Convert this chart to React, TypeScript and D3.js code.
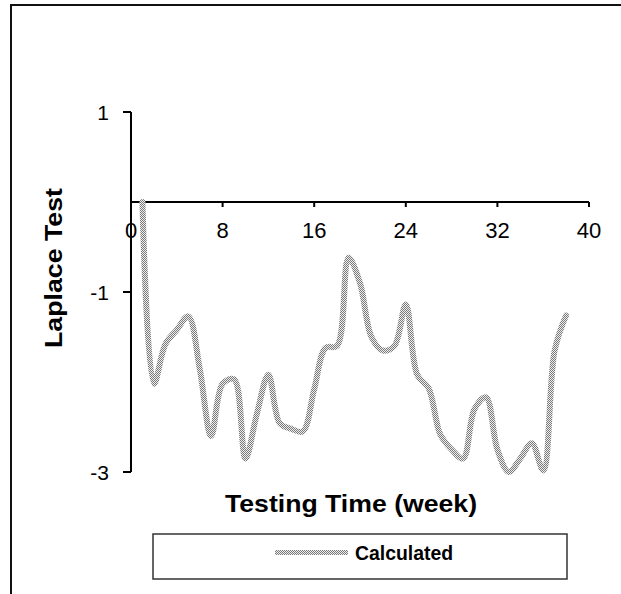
import React from "react";
import * as d3 from "d3";

const weeks = [1,2,3,4,5,6,7,8,9,10,11,12,13,14,15,16,17,18,19,20,21,22,23,24,25,26,27,28,29,30,31,32,33,34,35,36,37,38];
const laplace = [0.0,-2.02,-1.58,-1.42,-1.27,-1.85,-2.6,-2.02,-1.97,-2.85,-2.35,-1.92,-2.46,-2.52,-2.55,-2.08,-1.62,-1.6,-0.62,-0.9,-1.5,-1.65,-1.6,-1.14,-1.92,-2.07,-2.58,-2.75,-2.85,-2.3,-2.17,-2.75,-3.0,-2.85,-2.68,-2.98,-1.65,-1.26];
const xTicks = [0, 8, 16, 24, 32, 40];
const yTicks = [1, -1, -3];
const seriesName = "Calculated";
const xTitle = "Testing Time (week)";
const yTitle = "Laplace Test";

export default function App() {
  const x = d3.scaleLinear().domain([0, 40]).range([131, 589]);
  const y = d3.scaleLinear().domain([-3, 1]).range([472, 112]);
  const data = weeks.map((w, i) => [w, laplace[i]] as [number, number]);
  const line = d3
    .line<[number, number]>()
    .x((d) => x(d[0]))
    .y((d) => y(d[1]))
    .curve(d3.curveCatmullRom.alpha(0.5));
  const font = "Arial, 'Liberation Sans', sans-serif";
  return (
    <svg
      width={621}
      height={594}
      style={{ position: "absolute", left: 0, top: 0, background: "#fff" }}
    >
      <defs>
        <pattern id="dots" width={2} height={2} patternUnits="userSpaceOnUse">
          <rect width={2} height={2} fill="#eeeeee" />
          <rect x={0} y={0} width={1} height={1} fill="#7a7a7a" />
          <rect x={1} y={1} width={1} height={1} fill="#7a7a7a" />
        </pattern>
      </defs>
      {/* outer chart border */}
      <rect x={11} y={5} width={640} height={620} fill="none" stroke="#111" strokeWidth={2} />

      {/* x axis */}
      <line x1={x(0)} x2={x(40)} y1={y(0)} y2={y(0)} stroke="#000" strokeWidth={2} />
      {xTicks.filter((t) => t !== 0).map((t) => (
        <line key={"xt" + t} x1={x(t)} x2={x(t)} y1={y(0)} y2={y(0) + 5} stroke="#000" strokeWidth={2} />
      ))}
      {xTicks.map((t) => (
        <text key={"xl" + t} x={x(t)} y={238} textAnchor="middle" fontFamily={font} fontSize={22} fill="#000">
          {t}
        </text>
      ))}

      {/* y axis */}
      <line x1={x(0)} x2={x(0)} y1={y(1)} y2={y(-3)} stroke="#000" strokeWidth={2} />
      {yTicks.map((t) => (
        <line key={"yt" + t} x1={x(0) - 8} x2={x(0)} y1={y(t)} y2={y(t)} stroke="#000" strokeWidth={2} />
      ))}
      {yTicks.map((t) => (
        <text key={"yl" + t} x={109} y={y(t) + 7.5} textAnchor="end" fontFamily={font} fontSize={21} fill="#000">
          {t}
        </text>
      ))}

      {/* series */}
      <path d={line(data) || ""} fill="none" stroke="url(#dots)" strokeWidth={6} strokeLinejoin="round" strokeLinecap="round" />

      {/* axis titles */}
      <text x={351} y={512} textAnchor="middle" fontFamily={font} fontWeight="bold" fontSize={24} textLength={252} lengthAdjust="spacingAndGlyphs" fill="#000">
        {xTitle}
      </text>
      <text transform="translate(62,268) rotate(-90)" textAnchor="middle" fontFamily={font} fontWeight="bold" fontSize={24} textLength={160} lengthAdjust="spacingAndGlyphs" fill="#000">
        {yTitle}
      </text>

      {/* legend */}
      <rect x={153} y={534} width={414} height={45} fill="#fff" stroke="#333" strokeWidth={1.5} />
      <line x1={275} x2={348} y1={552.5} y2={552.5} stroke="url(#dots)" strokeWidth={5} />
      <text x={355} y={560} fontFamily={font} fontWeight="bold" fontSize={19.5} textLength={98} lengthAdjust="spacingAndGlyphs" fill="#000">
        {seriesName}
      </text>
    </svg>
  );
}
